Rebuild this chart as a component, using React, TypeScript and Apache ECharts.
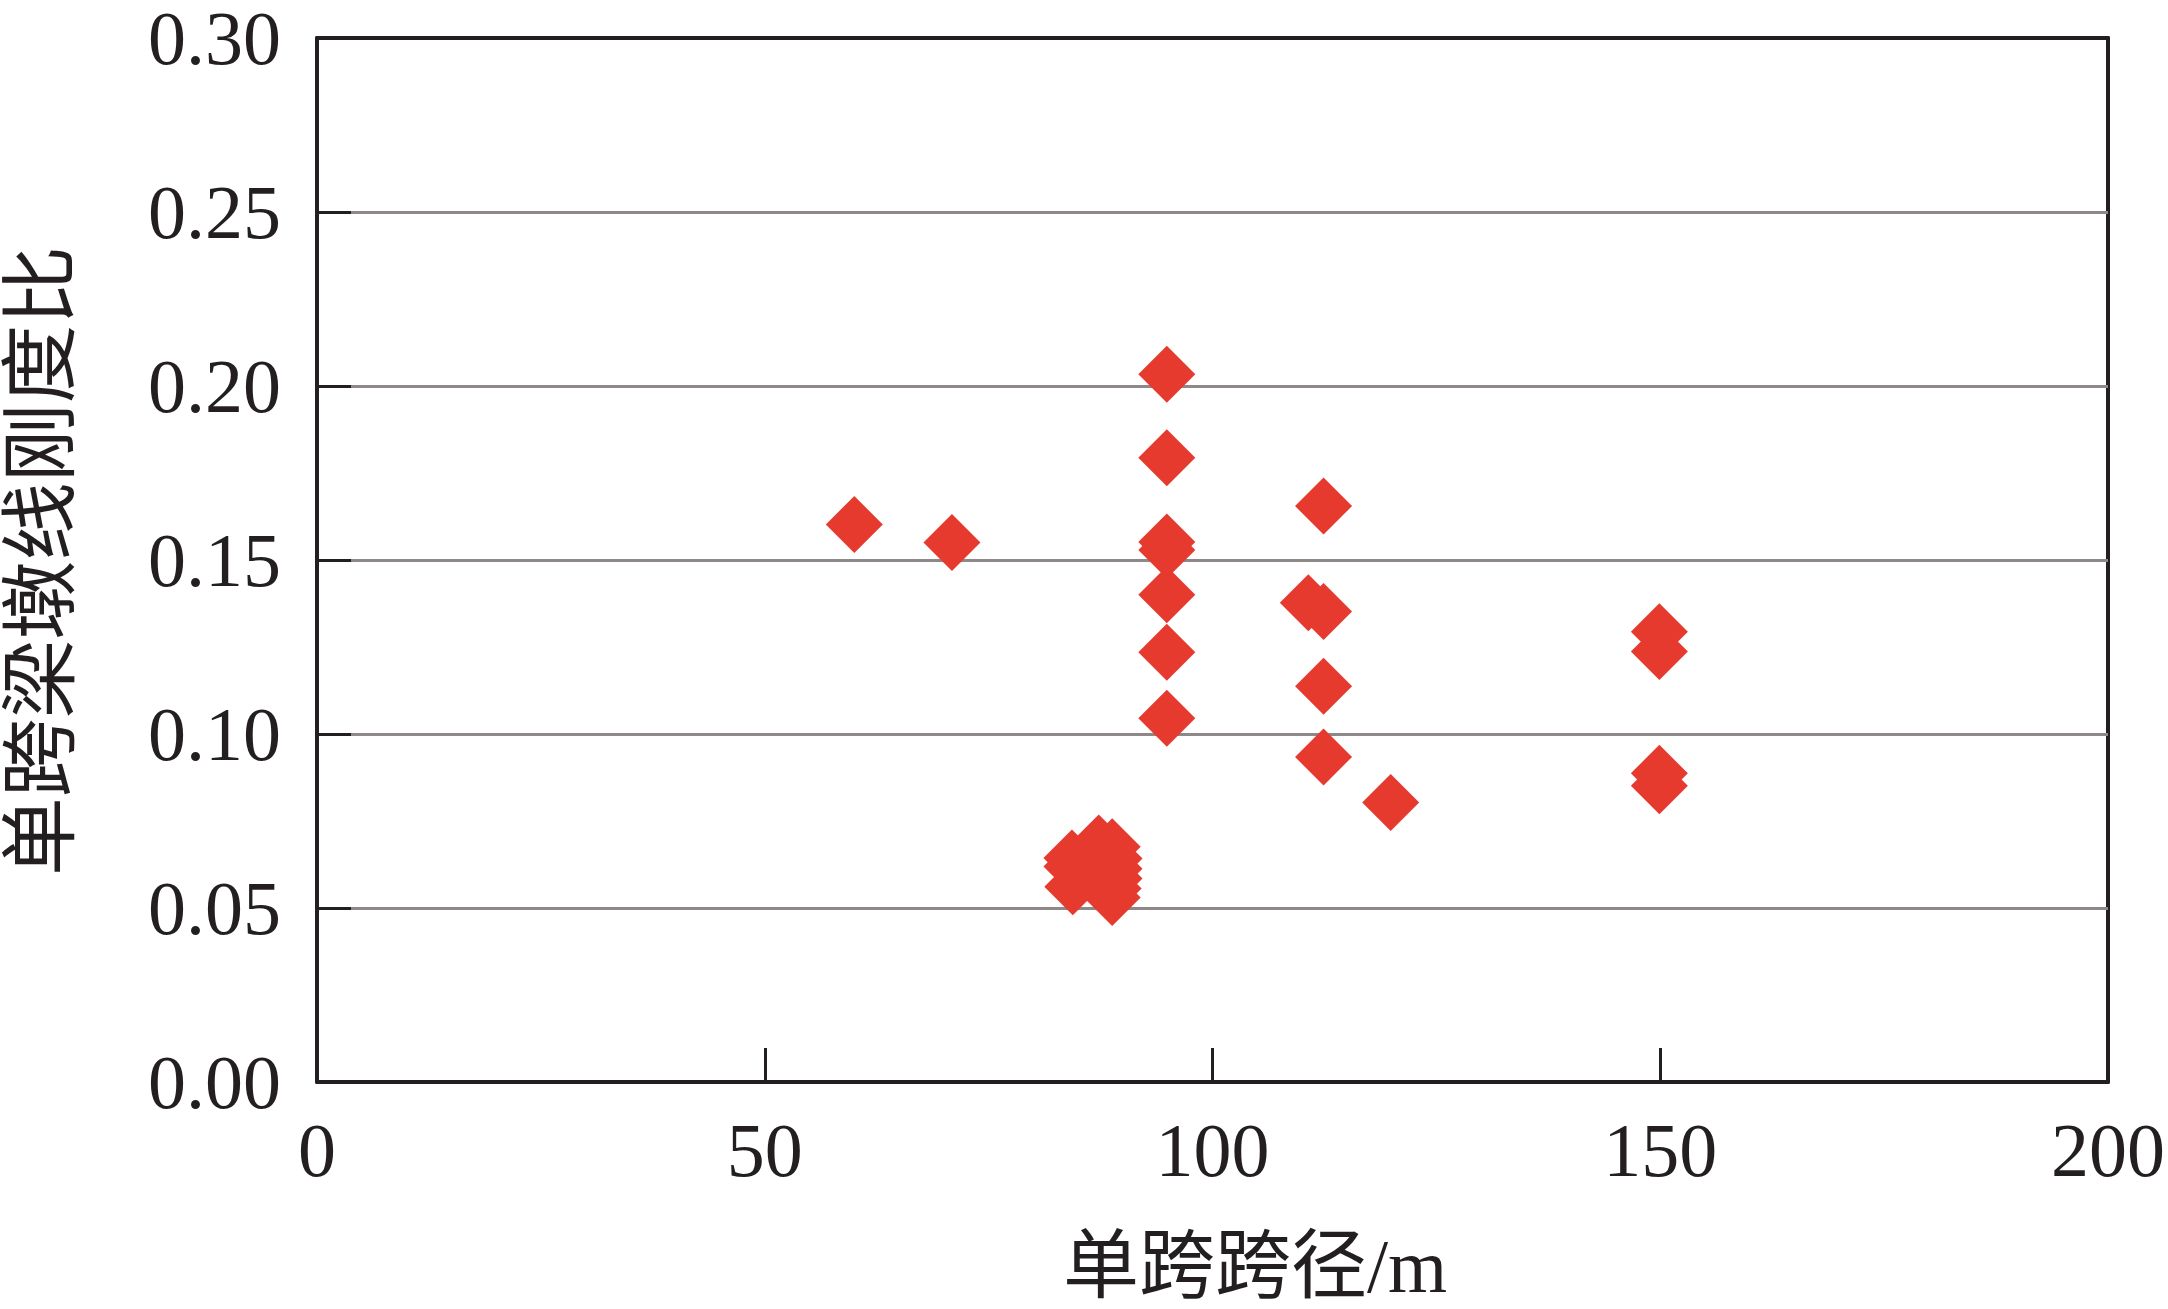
import React, { useEffect, useRef } from "react";
import * as echarts from "echarts";

// 单跨跨径 (m) and 单跨梁墩线刚度比
const spanX: number[] = [
  60.0, 70.9,
  94.9, 94.9, 94.9, 94.9, 94.9, 94.9, 94.9,
  112.4, 110.7, 112.4, 112.4, 112.4, 119.9,
  149.9, 149.9, 149.9, 149.9,
  84.3, 84.3, 84.4, 87.3, 88.8, 89.0, 89.0, 89.0, 88.9, 88.8, 86.6,
];
const ratioY: number[] = [
  0.1602, 0.155,
  0.2034, 0.1794, 0.1552, 0.1529, 0.14, 0.1235, 0.1045,
  0.1655, 0.1377, 0.1352, 0.1137, 0.0934, 0.0803,
  0.1294, 0.1237, 0.0887, 0.0851,
  0.0644, 0.0619, 0.0561, 0.0687, 0.0676, 0.0642, 0.0613, 0.0585, 0.0556, 0.053, 0.0607,
];
const xTicks: number[] = [0, 50, 100, 150, 200];
const yTicks: number[] = [0, 0.05, 0.1, 0.15, 0.2, 0.25, 0.3];
const xName = "单跨跨径/m";
const yName = "单跨梁墩线刚度比";

const SERIF = '"Liberation Serif", "Times New Roman", "Noto Sans CJK SC", serif';
const BLACK = "#231f20";
const GRID_GRAY = "#8f8888";
const RED = "#e63a2f";

export default function App() {
  const ref = useRef<HTMLDivElement>(null);
  useEffect(() => {
    if (!ref.current) return;
    const chart = echarts.init(ref.current, undefined, { renderer: "svg" });
    const data = spanX.map((x, i) => [x, ratioY[i]]);
    chart.setOption({
      animation: false,
      backgroundColor: "#ffffff",
      grid: { left: 317, top: 34, width: 1795, height: 1048, containLabel: false },
      xAxis: [
        {
          type: "value",
          min: xTicks[0],
          max: xTicks[xTicks.length - 1],
          interval: 50,
          axisLine: { show: true, lineStyle: { color: BLACK, width: 4 } },
          axisTick: { show: true, inside: true, length: 34, lineStyle: { color: BLACK, width: 3 } },
          axisLabel: { color: BLACK, fontFamily: SERIF, fontSize: 76, lineHeight: 76, margin: 30 },
          splitLine: { show: false },
        },
        {
          type: "value",
          position: "top",
          min: 0,
          max: 200,
          interval: 50,
          axisLine: { show: true, onZero: false, lineStyle: { color: BLACK, width: 4 } },
          axisTick: { show: false },
          axisLabel: { show: false },
          splitLine: { show: false },
        },
      ],
      yAxis: [
        {
          type: "value",
          min: yTicks[0],
          max: yTicks[yTicks.length - 1],
          interval: 0.05,
          axisLine: { show: true, lineStyle: { color: BLACK, width: 4 } },
          axisTick: { show: true, inside: true, length: 34, lineStyle: { color: BLACK, width: 3 } },
          axisLabel: {
            color: BLACK,
            fontFamily: SERIF,
            fontSize: 76,
            lineHeight: 56,
            margin: 36,
            formatter: (v: number) => v.toFixed(2),
          },
          splitLine: {
            show: true,
            showMinLine: false,
            showMaxLine: false,
            lineStyle: { color: GRID_GRAY, width: 3 },
          },
          z: 1,
        },
        {
          type: "value",
          position: "right",
          min: 0,
          max: 0.3,
          interval: 0.05,
          axisLine: { show: true, onZero: false, lineStyle: { color: BLACK, width: 4 } },
          axisTick: { show: false },
          axisLabel: { show: false },
          splitLine: { show: false },
        },
      ],
      graphic: [
        {
          type: "text",
          x: 1255,
          y: 1266,
          style: {
            text: xName,
            fontFamily: SERIF,
            fontSize: 76,
            lineHeight: 76,
            fill: BLACK,
            align: "center",
            verticalAlign: "middle",
          },
        },
        {
          type: "text",
          x: 42,
          y: 561,
          rotation: Math.PI / 2,
          scaleX: 1.01,
          style: {
            text: yName,
            fontFamily: SERIF,
            fontSize: 78,
            lineHeight: 78,
            fill: BLACK,
            align: "center",
            verticalAlign: "middle",
          },
        },
      ],
      series: [
        {
          type: "scatter",
          data,
          symbol: "diamond",
          symbolSize: 57,
          itemStyle: { color: RED, opacity: 1 },
          z: 5,
        },
      ],
    });
    return () => chart.dispose();
  }, []);
  return (
    <div
      ref={ref}
      style={{ position: "fixed", left: 0, top: 0, width: 2168, height: 1309, background: "#fff" }}
    />
  );
}
